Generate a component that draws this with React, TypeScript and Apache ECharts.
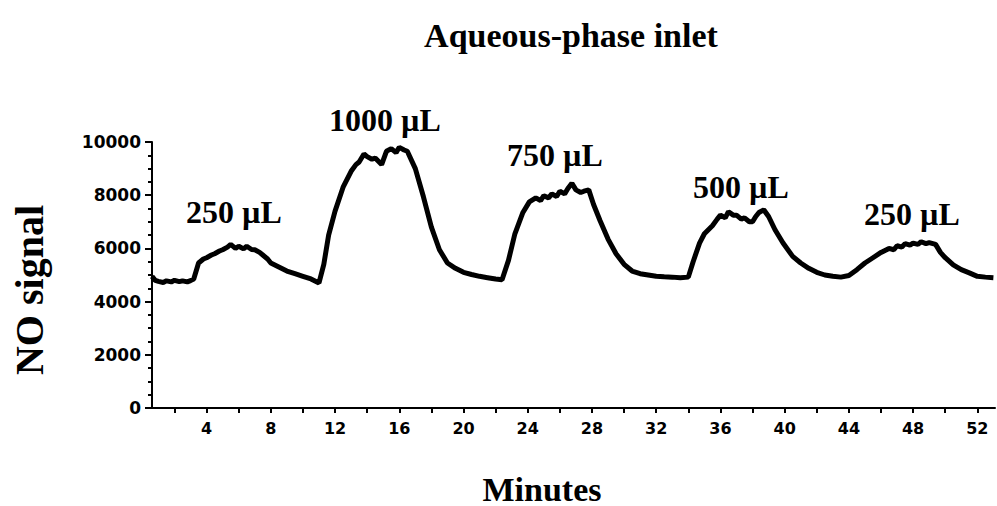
import React, { useEffect, useRef } from "react";
import * as echarts from "echarts";

const minutes = [
  0.6, 0.8, 1.0, 1.3, 1.5, 1.8, 2.0, 2.3, 2.5, 2.8, 3.0, 3.2, 3.5, 3.8, 4.0, 4.3, 4.5, 4.8, 5.0, 5.3, 5.5, 5.8,
  6.0, 6.3, 6.5, 6.8, 7.0, 7.3, 7.5, 7.8, 8.0, 8.5, 9.0, 9.5,
  10.0, 10.5, 11.0, 11.3, 11.6, 12.0, 12.5, 13.0, 13.3, 13.5, 13.8, 14.0, 14.3, 14.5, 14.9, 15.2, 15.5, 15.8,
  16.0, 16.3, 16.5, 17.0, 17.5, 18.0, 18.5, 19.0, 19.5, 20.0, 20.5, 21.0, 21.5, 22.0, 22.4, 22.8, 23.2, 23.7,
  24.1, 24.5, 24.8, 25.0, 25.3, 25.5, 25.8, 26.0, 26.3, 26.5, 26.75, 27.0, 27.3, 27.5, 27.8, 28.1, 28.5, 29.0,
  29.5, 30.0, 30.5, 31.0, 31.5, 32.0, 32.5, 33.0, 33.5, 34.0, 34.3, 34.7, 35.0, 35.5, 35.8, 36.0, 36.3, 36.5,
  36.8, 37.0, 37.3, 37.5, 37.8, 38.0, 38.2, 38.4, 38.7, 39.0, 39.4, 39.9, 40.5, 41.0, 41.5, 42.0, 42.5, 43.0,
  43.5, 44.0, 44.5, 45.0, 45.5, 46.0, 46.5, 46.8, 47.0, 47.3, 47.5, 47.8, 48.0, 48.3, 48.5, 48.8, 49.0, 49.4,
  49.7, 50.0, 50.5, 51.0, 51.5, 52.0, 52.5, 53.0,
];

const noSignal = [
  4950, 4800, 4760, 4720, 4780, 4740, 4800, 4750, 4780, 4740, 4790, 4850, 5450, 5600, 5650, 5750, 5800, 5900, 5950, 6050, 6150, 6000,
  6080, 5980, 6080, 5960, 5950, 5850, 5750, 5600, 5450, 5300, 5150, 5050,
  4950, 4850, 4700, 5400, 6500, 7400, 8300, 8900, 9150, 9250, 9550, 9450, 9350, 9400, 9150, 9650, 9750, 9600,
  9800, 9700, 9650, 9000, 7950, 6800, 5950, 5450, 5250, 5100, 5020, 4950, 4900, 4850, 4820, 5550, 6550, 7350,
  7750, 7900, 7800, 7980, 7900, 8050, 7950, 8150, 8050, 8250, 8450, 8200, 8100, 8150, 8200, 7650, 7050, 6350,
  5800, 5400, 5150, 5050, 5000, 4950, 4930, 4920, 4900, 4920, 5500, 6200, 6550, 6850, 7100, 7250, 7150, 7380,
  7250, 7250, 7100, 7150, 7000, 7000, 7200, 7350, 7450, 7200, 6700, 6200, 5700, 5450, 5250, 5100, 5000, 4950,
  4920, 4980, 5200, 5450, 5650, 5850, 6000, 5950, 6100, 6050, 6180, 6120, 6200, 6150, 6250, 6180, 6220, 6150,
  5850, 5650, 5380, 5200, 5080, 4950, 4920, 4900,
];

const xTickValues = [2, 4, 6, 8, 10, 12, 14, 16, 18, 20, 22, 24, 26, 28, 30, 32, 34, 36, 38, 40, 42, 44, 46, 48, 50, 52];
const xLabelValues = [4, 8, 12, 16, 20, 24, 28, 32, 36, 40, 44, 48, 52];

const annotations = ["250 µL", "1000 µL", "750 µL", "500 µL", "250 µL"];
const titleText = "Aqueous-phase inlet";
const xTitle = "Minutes";
const yTitle = "NO signal";

const serif = "'Liberation Serif', 'Times New Roman', serif";
const tickFont = "'DejaVu Sans', sans-serif";

export default function App() {
  const ref = useRef<HTMLDivElement>(null);
  useEffect(() => {
    if (!ref.current) return;
    const chart = echarts.init(ref.current, null, { renderer: "svg" });
    const annPos = [
      [234, 212],
      [385, 120],
      [555, 155],
      [741, 187],
      [912, 214],
    ];
    const textStyle = (size: number) => ({
      fontFamily: serif,
      fontSize: size,
      fontWeight: "bold",
      fill: "#000",
      textAlign: "center",
      textVerticalAlign: "middle",
    });
    chart.setOption({
      animation: false,
      backgroundColor: "#ffffff",
      grid: { left: 152, right: 2, top: 142, bottom: 98, containLabel: false },
      xAxis: {
        type: "value",
        min: 0.6,
        max: 53.1,
        axisLine: { show: true, lineStyle: { color: "#000", width: 2 } },
        axisTick: { show: true, customValues: xTickValues, length: 5, lineStyle: { color: "#000", width: 2 } },
        axisLabel: {
          customValues: xLabelValues,
          margin: 12,
          fontFamily: tickFont,
          fontSize: 16,
          fontWeight: "bold",
          color: "#000",
        },
        splitLine: { show: false },
      },
      yAxis: {
        type: "value",
        min: 0,
        max: 10000,
        interval: 2000,
        axisLine: { show: true, lineStyle: { color: "#000", width: 2 } },
        axisTick: { show: true, length: 7, lineStyle: { color: "#000", width: 2 } },
        minorTick: { show: true, splitNumber: 4, length: 4, lineStyle: { color: "#000", width: 2 } },
        axisLabel: {
          margin: 11,
          fontFamily: tickFont,
          fontSize: 17,
          fontWeight: "bold",
          color: "#000",
          formatter: (v: number) => String(v),
        },
        splitLine: { show: false },
        minorSplitLine: { show: false },
      },
      graphic: [
        { type: "text", x: 571, y: 35, style: { text: titleText, ...textStyle(34) } },
        { type: "text", x: 542, y: 489, style: { text: xTitle, ...textStyle(34) } },
        { type: "text", x: 29, y: 290, rotation: Math.PI / 2, style: { text: yTitle, ...textStyle(40) } },
        ...annotations.map((t, i) => ({
          type: "text",
          x: annPos[i][0],
          y: annPos[i][1],
          style: { text: t, ...textStyle(32) },
        })),
      ],
      series: [
        {
          type: "line",
          showSymbol: false,
          symbol: "none",
          lineStyle: { color: "#000", width: 5 },
          data: minutes.map((m, i) => [m, noSignal[i]]),
        },
      ],
    });
    return () => chart.dispose();
  }, []);
  return <div ref={ref} style={{ width: 997, height: 506, position: "fixed", left: 0, top: 0 }} />;
}
